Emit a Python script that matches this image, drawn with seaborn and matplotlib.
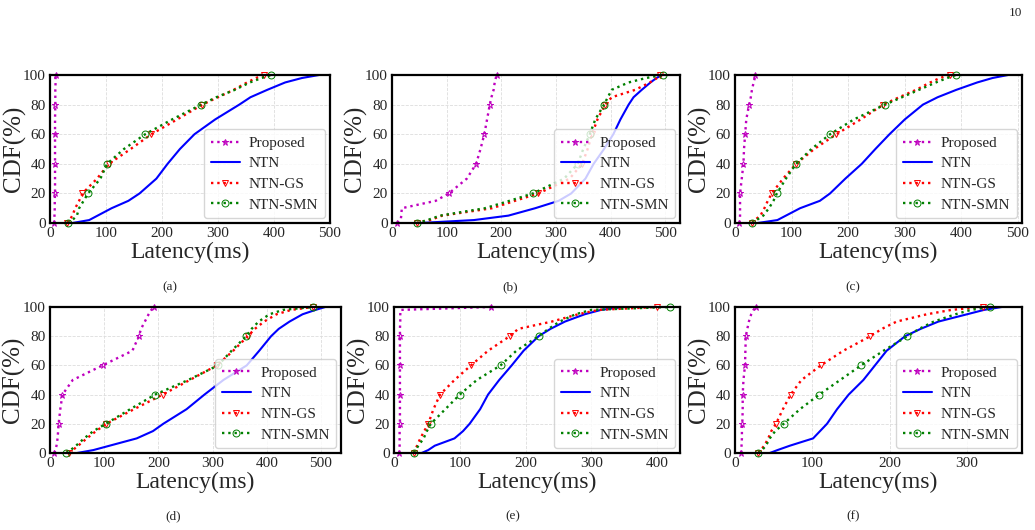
import matplotlib
matplotlib.use("Agg")
import matplotlib.pyplot as plt
import seaborn as sns

# CDF levels (%) shared by every curve, latencies (ms) read per panel
CDF = [0, 2, 5, 10, 15, 20, 30, 40, 50, 60, 70, 80, 85, 90, 95, 98, 100]
MARK_AT = [0, 5, 7, 9, 11, 16]  # 0/20/40/60/80/100 %

METHODS = ["Proposed", "NTN", "NTN-GS", "NTN-SMN"]
CAPTIONS = ["(a)", "(b)", "(c)", "(d)", "(e)", "(f)"]
XMAX = [500, 527, 507, 537, 435, 371]

a_prop = [7, 8, 8, 8.5, 8.5, 9, 9, 9, 9, 9, 9, 9.5, 9.5, 9.5, 10, 10, 10]
a_ntn = [40, 70, 85, 110, 140, 160, 190, 210, 232, 258, 295, 338, 358, 388, 420, 450, 480]
a_gs = [30, 35, 40, 45, 52, 58, 84, 105, 144, 181, 227, 272, 300, 328, 352, 368, 382]
a_smn = [32, 40, 48, 52, 60, 68, 90, 102, 132, 170, 218, 270, 297, 330, 357, 378, 395]

b_prop = [10, 16, 17, 18, 80, 104, 137, 154, 162, 169, 174, 179, 182, 186, 188, 190, 192]
b_ntn = [50, 150, 213, 262, 305, 328, 354, 369, 388, 405, 418, 433, 442, 457, 473, 484, 494]
b_gs = [45, 70, 92, 183, 225, 268, 325, 348, 358, 366, 376, 390, 402, 445, 472, 485, 490]
b_smn = [45, 65, 88, 170, 215, 258, 315, 340, 350, 362, 372, 388, 395, 402, 433, 465, 495]

c_prop = [8, 8.5, 9, 9, 9, 9, 12, 15, 16, 18, 20, 25, 28, 30, 33, 35, 36]
c_ntn = [40, 75, 90, 115, 150, 168, 195, 224, 248, 273, 300, 332, 358, 391, 428, 455, 482]
c_gs = [30, 35, 45, 52, 58, 65, 85, 108, 140, 179, 222, 262, 290, 320, 345, 362, 380]
c_smn = [30, 38, 50, 60, 68, 74, 90, 108, 135, 168, 210, 265, 295, 325, 355, 375, 390]

d_prop = [8, 10, 12, 14, 15, 16, 19, 23, 42, 97, 152, 164, 168, 175, 182, 187, 191]
d_ntn = [50, 80, 110, 160, 190, 209, 252, 285, 320, 363, 386, 408, 422, 442, 466, 490, 508]
d_gs = [35, 42, 52, 68, 85, 104, 155, 208, 258, 308, 338, 365, 378, 395, 418, 445, 485]
d_smn = [30, 38, 48, 63, 80, 103, 148, 194, 255, 310, 335, 362, 372, 385, 405, 430, 485]

e_prop = [8, 8, 8.5, 8.5, 8.5, 9, 9, 9, 9, 9, 9, 9, 9, 9.5, 9.5, 10, 148]
e_ntn = [42, 52, 62, 92, 105, 115, 131, 143, 160, 179, 197, 220, 238, 260, 290, 315, 350]
e_gs = [30, 32, 35, 40, 46, 52, 60, 70, 92, 117, 143, 176, 189, 240, 280, 311, 400]
e_smn = [30, 33, 37, 45, 50, 56, 78, 100, 126, 162, 186, 220, 235, 252, 276, 300, 420]

f_prop = [8, 8, 8.5, 9, 9, 9.5, 10, 10, 11, 13, 13.5, 14, 16, 18, 21, 24, 27]
f_ntn = [45, 55, 71, 101, 110, 119, 132, 147, 166, 181, 196, 220, 240, 263, 300, 322, 345]
f_gs = [30, 33, 38, 43, 47, 53, 62, 72, 86, 111, 140, 175, 190, 209, 248, 280, 320]
f_smn = [30, 35, 40, 45, 52, 63, 84, 109, 136, 163, 192, 223, 238, 257, 285, 305, 330]

PANELS = [
    [a_prop, a_ntn, a_gs, a_smn],
    [b_prop, b_ntn, b_gs, b_smn],
    [c_prop, c_ntn, c_gs, c_smn],
    [d_prop, d_ntn, d_gs, d_smn],
    [e_prop, e_ntn, e_gs, e_smn],
    [f_prop, f_ntn, f_gs, f_smn],
]

STYLES = {
    "Proposed": dict(color="m", linestyle=":", marker="*", markevery=MARK_AT),
    "NTN": dict(color="b", linestyle="-", marker=None),
    "NTN-GS": dict(color="r", linestyle=":", marker="v", markevery=MARK_AT),
    "NTN-SMN": dict(color="g", linestyle=":", marker="o", markevery=MARK_AT),
}

RECTS = [
    [0.0483, 0.5792, 0.2705, 0.2792],
    [0.3787, 0.5792, 0.2783, 0.2792],
    [0.7101, 0.5792, 0.2773, 0.2792],
    [0.0483, 0.1453, 0.2812, 0.2755],
    [0.3807, 0.1453, 0.2763, 0.2755],
    [0.7101, 0.1453, 0.2773, 0.2755],
]
CAP_POS = [(0.164, 0.458), (0.493, 0.458), (0.824, 0.458),
           (0.167, 0.025), (0.495, 0.025), (0.824, 0.025)]

sns.set_style("whitegrid")
plt.rcParams["font.family"] = ["Liberation Serif", "DejaVu Serif"]

fig = plt.figure(figsize=(10.35, 5.3), dpi=100)

for i, series in enumerate(PANELS):
    ax = fig.add_axes(RECTS[i])
    for name, lat in zip(METHODS, series):
        st = STYLES[name]
        sns.lineplot(x=lat, y=CDF, ax=ax, sort=False, estimator=None,
                     label=name, color=st["color"], linestyle=st["linestyle"],
                     marker=st["marker"], markevery=st.get("markevery"),
                     markersize=5, markerfacecolor="none",
                     markeredgecolor=st["color"], markeredgewidth=0.7,
                     linewidth=1.5 if name == "NTN" else 1.7, clip_on=False)
    ax.set_xlim(0, XMAX[i])
    ax.set_ylim(0, 100)
    ax.set_xticks(range(0, XMAX[i] + 1, 100))
    ax.set_yticks(range(0, 101, 20))
    ax.tick_params(labelsize=11, length=2, pad=1)
    ax.grid(True, color="#dddddd", linestyle="--", linewidth=0.6)
    for sp in ax.spines.values():
        sp.set_color("black")
        sp.set_linewidth(1.6)
    ax.set_xlabel("Latency(ms)", fontsize=17, labelpad=1)
    ax.set_ylabel("CDF(%)", fontsize=18)
    ax.yaxis.set_label_coords(-0.085, 0.5)
    ax.legend(loc="lower right", fontsize=11, frameon=True,
              borderaxespad=0.3, handlelength=1.9, handletextpad=0.6,
              labelspacing=0.45, borderpad=0.45)
    fig.text(CAP_POS[i][0], CAP_POS[i][1], CAPTIONS[i], ha="center",
             va="center", fontsize=9.5)

fig.text(0.988, 0.975, "10", ha="right", va="center", fontsize=9.5)

fig.savefig("out.png", dpi=100)
plt.close(fig)
